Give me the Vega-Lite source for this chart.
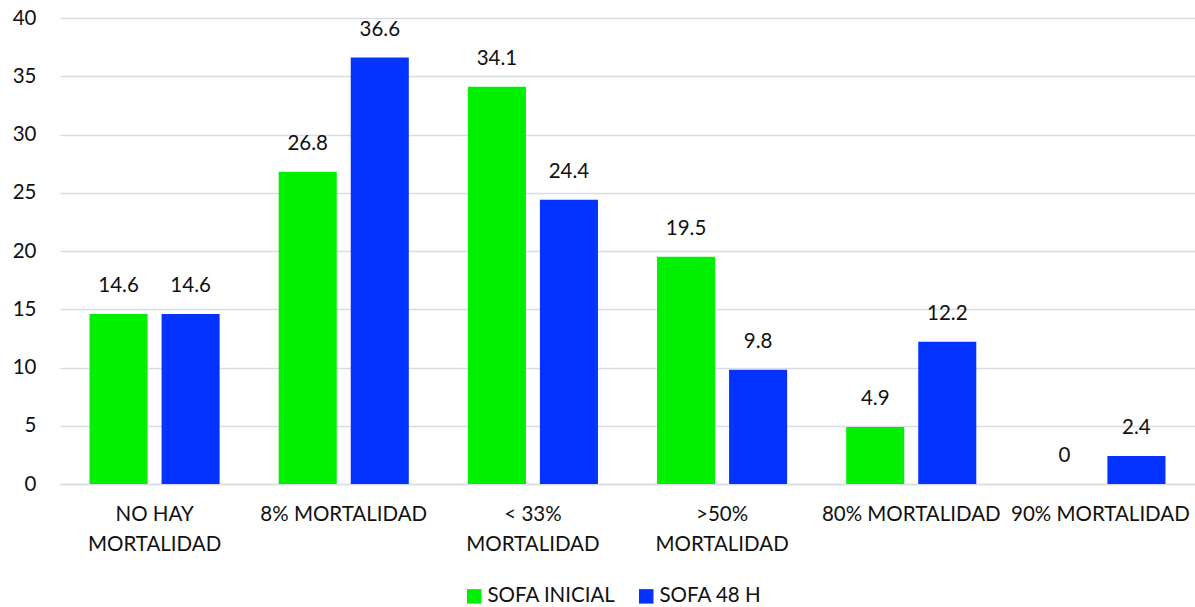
{
  "$schema": "https://vega.github.io/schema/vega-lite/v6.json",
  "autosize": "none",
  "width": 1135,
  "height": 466,
  "padding": {"left": 60, "top": 18, "right": 0, "bottom": 123},
  "background": "white",
  "config": {
    "font": "Lato",
    "view": {"stroke": null},
    "axis": {"labelFont": "Lato", "labelColor": "#111111"},
    "legend": {"labelFont": "Lato"}
  },
  "data": {
    "values": [
      {"categoria": "NO HAY|MORTALIDAD", "serie": "SOFA INICIAL", "valor": 14.6},
      {"categoria": "NO HAY|MORTALIDAD", "serie": "SOFA 48 H", "valor": 14.6},
      {"categoria": "8% MORTALIDAD", "serie": "SOFA INICIAL", "valor": 26.8},
      {"categoria": "8% MORTALIDAD", "serie": "SOFA 48 H", "valor": 36.6},
      {"categoria": "< 33%|MORTALIDAD", "serie": "SOFA INICIAL", "valor": 34.1},
      {"categoria": "< 33%|MORTALIDAD", "serie": "SOFA 48 H", "valor": 24.4},
      {"categoria": ">50%|MORTALIDAD", "serie": "SOFA INICIAL", "valor": 19.5},
      {"categoria": ">50%|MORTALIDAD", "serie": "SOFA 48 H", "valor": 9.8},
      {"categoria": "80% MORTALIDAD", "serie": "SOFA INICIAL", "valor": 4.9},
      {"categoria": "80% MORTALIDAD", "serie": "SOFA 48 H", "valor": 12.2},
      {"categoria": "90% MORTALIDAD", "serie": "SOFA INICIAL", "valor": 0},
      {"categoria": "90% MORTALIDAD", "serie": "SOFA 48 H", "valor": 2.4}
    ]
  },
  "encoding": {
    "x": {
      "field": "categoria",
      "type": "nominal",
      "sort": null,
      "scale": {"paddingInner": 0, "paddingOuter": 0},
      "axis": {
        "title": null,
        "labelAngle": 0,
        "labelExpr": "split(datum.value, '|')",
        "labelFontSize": 20.5,
        "labelLineHeight": 30,
        "labelPadding": 20,
        "labelBaseline": "top",
        "ticks": false,
        "domainColor": "#d9dde3",
        "domainWidth": 1.5,
        "grid": false
      }
    },
    "xOffset": {
      "field": "serie",
      "type": "nominal",
      "sort": ["SOFA INICIAL", "SOFA 48 H"],
      "scale": {"paddingInner": 0.194, "paddingOuter": 0.41}
    },
    "y": {
      "field": "valor",
      "type": "quantitative",
      "scale": {"domain": [0, 40], "nice": false},
      "axis": {
        "title": null,
        "values": [0, 5, 10, 15, 20, 25, 30, 35, 40],
        "labelFontSize": 20.5,
        "labelPadding": 24,
        "ticks": false,
        "domain": false,
        "gridColor": "#d9dde3",
        "gridWidth": 1.5
      }
    }
  },
  "layer": [
    {
      "mark": {"type": "bar"},
      "encoding": {
        "color": {
          "field": "serie",
          "type": "nominal",
          "sort": ["SOFA INICIAL", "SOFA 48 H"],
          "scale": {"domain": ["SOFA INICIAL", "SOFA 48 H"], "range": ["#00f000", "#0433ff"]},
          "legend": {
            "title": null,
            "orient": "none",
            "direction": "horizontal",
            "legendX": 404,
            "legendY": 568,
            "symbolType": "square",
            "symbolSize": 210,
            "symbolStrokeWidth": 0,
            "labelFontSize": 20.5,
            "labelColor": "#111111",
            "labelOffset": 3,
            "columnPadding": 20
          }
        }
      }
    },
    {
      "mark": {"type": "text", "dy": -28, "fontSize": 20.5, "color": "#111111", "baseline": "middle"},
      "encoding": {
        "text": {"field": "valor", "type": "quantitative"}
      }
    }
  ]
}
